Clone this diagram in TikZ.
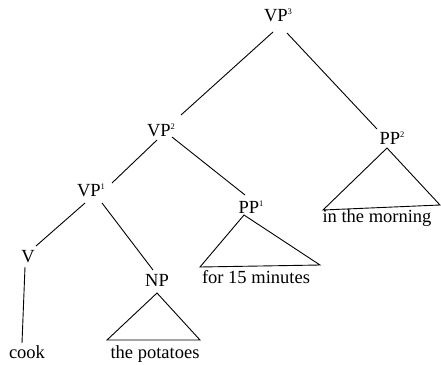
\documentclass[tikz,border=0pt]{standalone}
\usepackage{fontspec}
\setmainfont{Liberation Serif}
\newcommand{\lvl}[1]{\raisebox{0.85ex}{\fontsize{8.5}{9}\selectfont #1}}

\begin{document}
\begin{tikzpicture}[x=1pt,y=-1pt,
	lab/.style={inner sep=0pt,font=\fontsize{18.5}{20}\selectfont},
	rama/.style={line width=0.9pt}]
	\useasboundingbox (0,0) rectangle (441,364);

	% Etiquetas
	\node[lab] (vp3) at (278,15) {VP\lvl{3}};
	\node[lab] (vp2) at (161,130) {VP\lvl{2}};
	\node[lab] (pp2) at (392,138) {PP\lvl{2}};
	\node[lab] (vp1) at (91,190) {VP\lvl{1}};
	\node[lab] (pp1) at (251,207) {PP\lvl{1}};
	\node[lab] (v) at (28,257) {V};
	\node[lab] (np) at (157,280) {NP};

	% Palabras
	\node[lab] (cook) at (27,352) {cook};
	\node[lab] (potatoes) at (155,354) {the potatoes};
	\node[lab] (minutes) at (256,277) {for 15 minutes};
	\node[lab] (morning) at (377,218) {in the morning};

	% Ramas
	\draw[rama] ([shift={(-5,17)}]vp3.center) -- ([shift={(20,-15)}]vp2.center);
	\draw[rama] ([shift={(9,18)}]vp3.center) -- ([shift={(-15,-9)}]pp2.center);
	\draw[rama] ([shift={(-4,10)}]vp2.center) -- ([shift={(21,-7)}]vp1.center);
	\draw[rama] ([shift={(11,7)}]vp2.center) -- ([shift={(-6,-12)}]pp1.center);
	\draw[rama] ([shift={(-6,13)}]vp1.center) -- ([shift={(8,-11)}]v.center);
	\draw[rama] ([shift={(11,13)}]vp1.center) -- ([shift={(-4,-10)}]np.center);
	\draw[rama] ([shift={(-3,10)}]v.center) -- ([shift={(-5,-9)}]cook.center);

	% Triangulos
	\draw[rama] ([shift={(0,13)}]np.center) -- ([shift={(-48,-14)}]potatoes.center)
		-- ([shift={(45,-14)}]potatoes.center) -- cycle;
	\draw[rama] ([shift={(-7,8)}]pp1.center) -- ([shift={(-56,-10)}]minutes.center)
		-- ([shift={(64,-12)}]minutes.center) -- cycle;
	\draw[rama] ([shift={(-5,10)}]pp2.center) -- ([shift={(-54,-8)}]morning.center)
		-- ([shift={(63,-13)}]morning.center) -- cycle;
\end{tikzpicture}
\end{document}
